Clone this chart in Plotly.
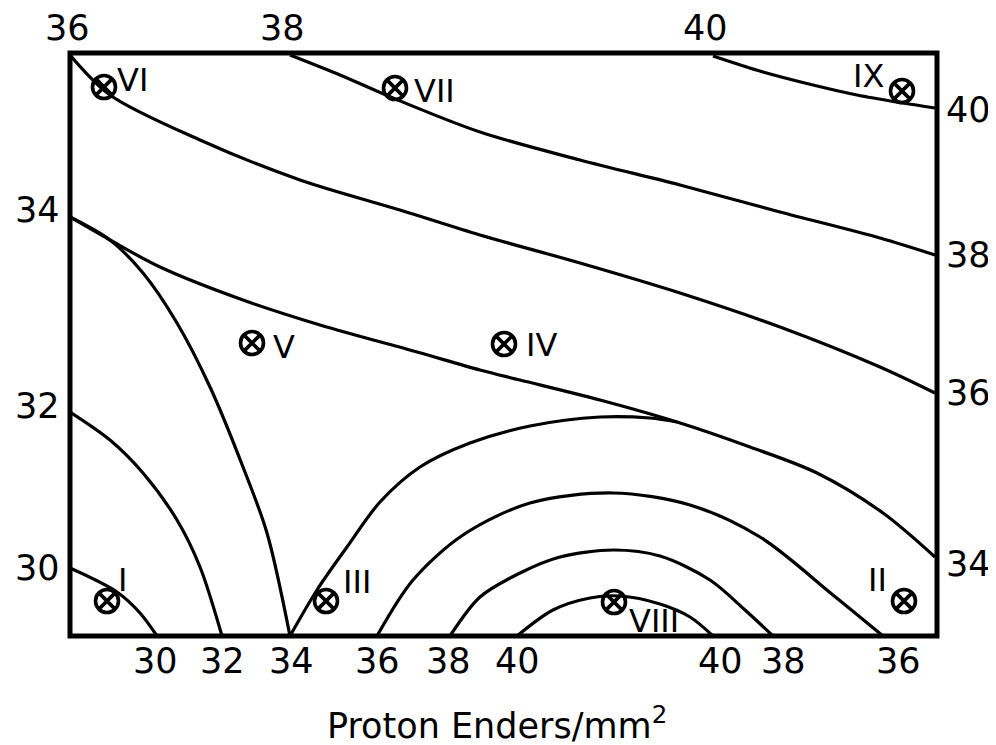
import plotly.graph_objects as go

# ---- contour lines (map coordinates; y grows downward) ----
c36_top_x = [70, 110, 200, 300, 400, 480, 580, 680, 780, 880, 935]
c36_top_y = [55, 95, 140, 180, 210, 235, 263, 293, 327, 367, 393]

c38_top_x = [290, 340, 393, 480, 580, 680, 780, 880, 935]
c38_top_y = [55, 75, 98, 132, 160, 185, 212, 238, 255]

c40_top_x = [713, 763, 813, 857, 903, 935]
c40_top_y = [56, 72, 85, 95, 103, 108]

c34_right_x = [70, 110, 160, 243, 320, 417, 480, 520, 600, 677, 750, 817, 883, 935]
c34_right_y = [217, 240, 267, 300, 325, 352, 370, 380, 400, 422, 447, 473, 513, 557]

c34_down_x = [70, 110, 143, 177, 210, 243, 267, 290]
c34_down_y = [217, 240, 273, 323, 387, 467, 533, 636]

c34_arc_x = [290, 317, 347, 380, 420, 470, 530, 600, 650, 677]
c34_arc_y = [636, 590, 547, 502, 467, 443, 426, 417, 418, 422]

c32_x = [70, 110, 143, 177, 200, 222]
c32_y = [412, 440, 473, 520, 567, 636]

c30_x = [70, 117, 140, 157]
c30_y = [568, 592, 613, 636]

c36_arc_x = [377, 413, 463, 530, 613, 690, 760, 833, 883]
c36_arc_y = [636, 580, 535, 503, 493, 505, 537, 595, 636]

c38_arc_x = [450, 480, 520, 560, 613, 660, 710, 745, 773]
c38_arc_y = [636, 597, 573, 557, 550, 556, 580, 610, 636]

c40_arc_x = [517, 553, 590, 620, 660, 690, 713]
c40_arc_y = [636, 610, 598, 596, 604, 617, 636]

contours = [
    (c36_top_x, c36_top_y), (c38_top_x, c38_top_y), (c40_top_x, c40_top_y),
    (c34_right_x, c34_right_y), (c34_down_x, c34_down_y), (c34_arc_x, c34_arc_y),
    (c32_x, c32_y), (c30_x, c30_y),
    (c36_arc_x, c36_arc_y), (c38_arc_x, c38_arc_y), (c40_arc_x, c40_arc_y),
]

# ---- sampling sites ----
site_names = ["VI", "VII", "IX", "V", "IV", "I", "III", "VIII", "II"]
site_x = [104, 395, 902, 252, 504, 107, 326, 614, 904]
site_y = [87, 88, 91, 343, 344, 601, 601, 602, 601]

# ---- contour value labels along the frame ----
bottom_vals = ["30", "32", "34", "36", "38", "40", "40", "38", "36"]
bottom_x = [155, 222, 291, 377, 448, 517, 720, 783, 898]
top_vals = ["36", "38", "40"]
top_x = [67, 282, 705]
left_vals = ["34", "32", "30"]
left_y = [210, 406, 568]
right_vals = ["40", "38", "36", "34"]
right_y = [110, 255, 393, 564]

FONT = "DejaVu Sans"
X0, X1 = 70, 937
Y0, Y1 = 636, 53


def px(x):
    return (x - X0) / (X1 - X0)


def py(y):
    return (Y0 - y) / (Y0 - Y1)


fig = go.Figure()
for cx, cy in contours:
    fig.add_trace(go.Scatter(x=cx, y=cy, mode="lines",
                             line=dict(color="black", width=3.2, shape="spline", smoothing=0.9),
                             hoverinfo="skip", showlegend=False))

fig.add_trace(go.Scatter(x=site_x, y=site_y, mode="markers",
                         marker=dict(symbol="circle-x-open", size=23, color="black",
                                     line=dict(color="black", width=3.6)),
                         cliponaxis=False, showlegend=False, text=site_names))

label_style = {
    "VI": ("left", 11, 7), "VII": ("left", 17, -3), "IX": ("right", -16, 15),
    "V": ("left", 19, -4), "IV": ("left", 20, -1), "I": ("left", 9, 21),
    "III": ("left", 15, 19), "VIII": ("left", 13, -19), "II": ("right", -15, 21),
}
ann = []
for n, x, y in zip(site_names, site_x, site_y):
    xa, dx, dy = label_style[n]
    ann.append(dict(x=px(x), y=py(y), xref="paper", yref="paper", text=n, showarrow=False,
                    xanchor=xa, yanchor="middle", xshift=dx, yshift=dy,
                    font=dict(family=FONT, size=32, color="black")))

lab_font = dict(family=FONT, size=35, color="black")
for v, x in zip(bottom_vals, bottom_x):
    ann.append(dict(x=px(x), y=py(661), xref="paper", yref="paper", text=v, showarrow=False,
                    xanchor="center", yanchor="middle", font=lab_font))
for v, x in zip(top_vals, top_x):
    ann.append(dict(x=px(x), y=py(28), xref="paper", yref="paper", text=v, showarrow=False,
                    xanchor="center", yanchor="middle", font=lab_font))
for v, y in zip(left_vals, left_y):
    ann.append(dict(x=px(62), y=py(y), xref="paper", yref="paper", text=v, showarrow=False,
                    xanchor="right", yanchor="middle", font=lab_font))
for v, y in zip(right_vals, right_y):
    ann.append(dict(x=px(944), y=py(y), xref="paper", yref="paper", text=v, showarrow=False,
                    xanchor="left", yanchor="middle", font=lab_font))

ann.append(dict(x=px(497), y=py(723), xref="paper", yref="paper",
                text="Proton Enders/mm<sup>2</sup>",
                showarrow=False, xanchor="center", yanchor="middle",
                font=dict(family=FONT, size=35, color="black")))

fig.update_layout(
    width=988, height=737,
    margin=dict(l=62, r=59, t=45, b=109),
    paper_bgcolor="white", plot_bgcolor="white",
    xaxis=dict(range=[X0, X1], visible=False, fixedrange=True),
    yaxis=dict(range=[Y0, Y1], visible=False, fixedrange=True),
    annotations=ann,
    shapes=[dict(type="rect", xref="paper", yref="paper", x0=0, x1=1, y0=0, y1=1,
                 line=dict(color="black", width=5), layer="above")],
    showlegend=False,
)

fig.write_html("out.html")
